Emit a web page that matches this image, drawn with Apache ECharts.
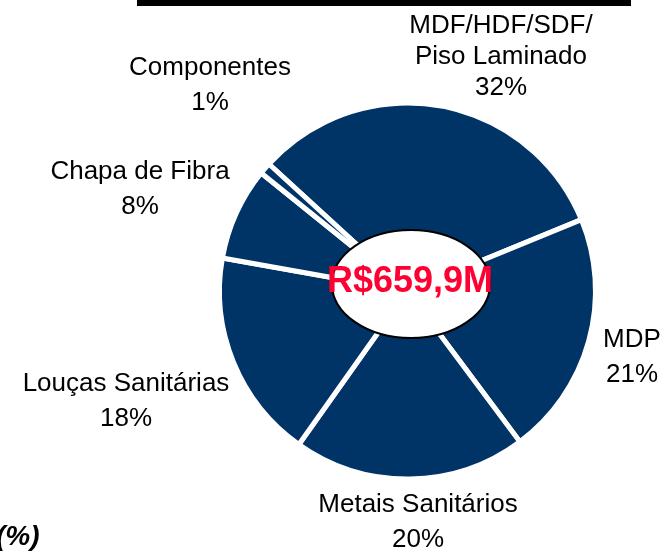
<!DOCTYPE html>
<html>
<head>
<meta charset="utf-8">
<script src="https://cdn.jsdelivr.net/npm/echarts@6/dist/echarts.min.js"></script>
<style>
  html, body { margin: 0; padding: 0; background: #fff; }
  #chart { width: 664px; height: 553px; }
</style>
</head>
<body>
<div id="chart"></div>
<script>
const categories = [
  "MDF/HDF/SDF/\nPiso Laminado",
  "MDP",
  "Metais Sanitários",
  "Louças Sanitárias",
  "Chapa de Fibra",
  "Componentes",
];
const shares = [32, 21, 20, 18, 8, 1];
const totalLabel = "R$659,9M";
const unitLabel = "(%)";

// where each outside label sits (centre of the text block)
const labelPos = [
  [501, 57],
  [632, 357],
  [418, 522],
  [126, 401],
  [140, 189],
  [210, 85],
];

const chart = echarts.init(document.getElementById("chart"));
chart.setOption({
  animation: false,
  backgroundColor: "#fff",
  series: [
    {
      type: "pie",
      center: [407.5, 291],
      radius: [0, 188],
      startAngle: 137.5,
      clockwise: true,
      avoidLabelOverlap: false,
      percentPrecision: 0,
      itemStyle: { color: "#003366", borderColor: "#fff", borderWidth: 5 },
      label: {
        show: true,
        position: "outside",
        color: "#000",
        fontSize: 26,
        fontFamily: "Liberation Sans, Arial, sans-serif",
        lineHeight: 35,
        formatter: (p) => p.name + "\n" + p.percent + "%",
      },
      labelLine: { show: false },
      labelLayout: (params) => ({
        x: labelPos[params.dataIndex][0],
        y: labelPos[params.dataIndex][1],
        align: "center",
        verticalAlign: "middle",
      }),
      emphasis: { disabled: true },
      data: categories.map((name, i) => ({
        name: name,
        value: shares[i],
        label: i === 0 ? { lineHeight: 31 } : undefined,
      })),
    },
  ],
  graphic: [
    {
      type: "rect",
      shape: { x: 137, y: 0, width: 494, height: 6 },
      style: { fill: "#000" },
    },
    {
      type: "ellipse",
      z: 10,
      shape: { cx: 411, cy: 284, rx: 79, ry: 54 },
      style: { fill: "#fff", stroke: "#000", lineWidth: 2 },
    },
    {
      type: "text",
      z: 11,
      x: 410,
      y: 282,
      style: {
        text: totalLabel,
        fill: "#FF0033",
        font: "bold 36px 'Liberation Sans', Arial, sans-serif",
        align: "center",
        verticalAlign: "middle",
      },
    },
    {
      type: "text",
      x: -4,
      y: 537,
      style: {
        text: unitLabel,
        fill: "#000",
        font: "italic bold 28px 'Liberation Sans', Arial, sans-serif",
        align: "left",
        verticalAlign: "middle",
      },
    },
  ],
});
</script>
</body>
</html>
